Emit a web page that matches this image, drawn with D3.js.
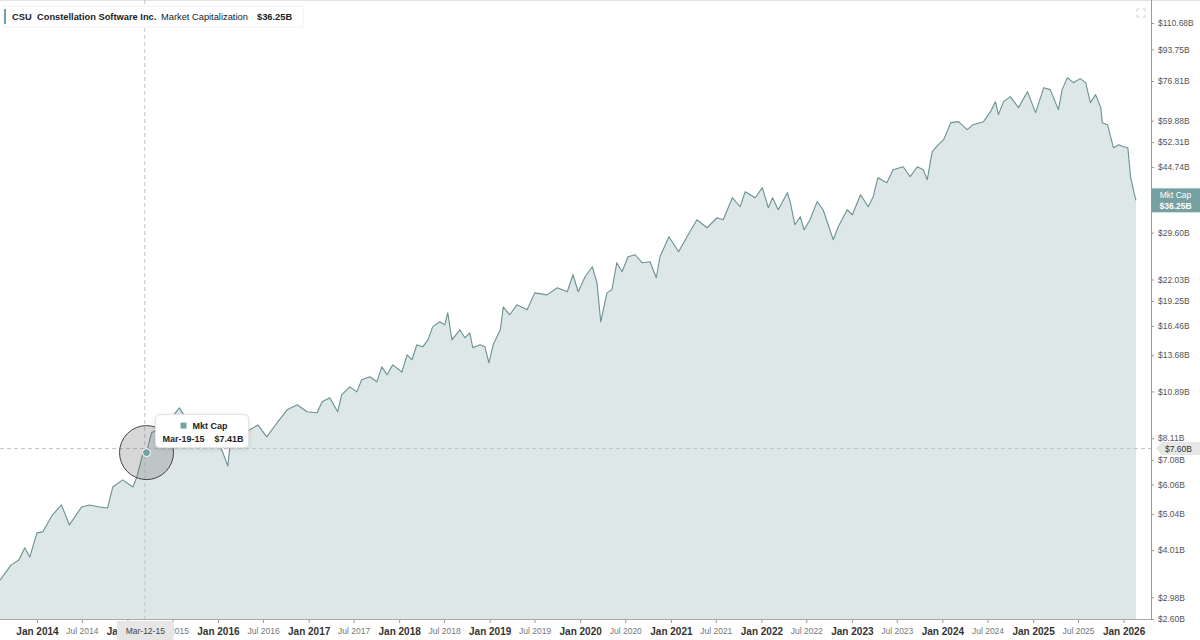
<!DOCTYPE html>
<html>
<head>
<meta charset="utf-8">
<script src="https://cdn.jsdelivr.net/npm/d3@7"></script>
<style>
  body { margin: 0; background: #fff; font-family: "Liberation Sans", Arial, sans-serif; }
  svg { display: block; }
</style>
</head>
<body>
<svg id="chart" width="1200" height="640"></svg>
<script>
// market cap in $B
const dates = ["2013-08-05","2013-09-18","2013-10-20","2013-11-13","2013-12-03","2014-01-01","2014-01-25","2014-03-04","2014-04-10","2014-05-12",
  "2014-06-30","2014-08-01","2014-09-11","2014-10-13","2014-11-03","2014-12-13","2015-01-23","2015-02-08","2015-03-03","2015-03-19",
  "2015-04-08","2015-05-30","2015-07-30","2015-09-09","2015-11-09","2015-12-19","2016-01-21","2016-02-10","2016-02-18","2016-05-08",
  "2016-06-10","2016-07-16","2016-08-26","2016-10-06","2016-11-16","2016-12-25","2017-02-04","2017-02-24","2017-03-27","2017-04-28",
  "2017-05-14","2017-06-16","2017-07-14","2017-08-03","2017-09-05","2017-10-03","2017-10-23","2017-11-13","2017-12-06","2018-01-12",
  "2018-02-02","2018-02-22","2018-03-13","2018-04-06","2018-04-27","2018-05-16","2018-06-14","2018-07-04","2018-07-16","2018-08-02",
  "2018-09-03","2018-09-23","2018-10-13","2018-10-25","2018-11-23","2018-12-13","2018-12-29","2019-01-15","2019-02-13","2019-02-25",
  "2019-03-23","2019-04-21","2019-06-01","2019-07-02","2019-08-20","2019-10-01","2019-11-10","2019-12-03","2019-12-24","2020-01-21",
  "2020-02-19","2020-03-09","2020-03-24","2020-04-18","2020-05-08","2020-05-28","2020-06-18","2020-07-12","2020-08-10","2020-09-07",
  "2020-10-09","2020-11-03","2020-11-18","2020-12-24","2021-02-01","2021-03-07","2021-04-16","2021-05-27","2021-07-06","2021-07-31",
  "2021-09-06","2021-10-07","2021-10-28","2021-12-07","2022-01-05","2022-01-29","2022-02-15","2022-03-10","2022-04-16","2022-04-28",
  "2022-05-16","2022-06-07","2022-06-22","2022-07-16","2022-08-14","2022-09-07","2022-10-18","2022-11-07","2022-12-13","2023-01-03",
  "2023-02-05","2023-03-08","2023-03-28","2023-04-16","2023-05-22","2023-06-16","2023-07-27","2023-08-24","2023-09-22","2023-10-16",
  "2023-11-01","2023-11-21","2023-12-16","2024-01-06","2024-02-04","2024-03-06","2024-04-10","2024-05-04","2024-06-15","2024-07-13",
  "2024-08-02","2024-08-14","2024-09-04","2024-10-01","2024-11-03","2024-12-09","2025-01-11","2025-02-13","2025-03-11","2025-04-13",
  "2025-04-28","2025-05-19","2025-06-12","2025-07-10","2025-08-01","2025-08-20","2025-09-10","2025-10-01","2025-10-07","2025-10-28",
  "2025-11-21","2025-12-12","2026-01-01","2026-01-18","2026-01-29","2026-02-11","2026-02-20"];

const mktCap = [3.32,3.65,3.77,4.07,3.84,4.47,4.50,5.00,5.33,4.70,
  5.26,5.33,5.26,5.23,5.97,6.24,5.97,6.36,7.30,7.41,
  8.39,8.75,9.82,8.82,8.55,8.28,7.40,6.81,7.68,8.55,
  8.82,8.18,8.93,9.70,10.01,9.58,9.52,10.20,10.46,9.58,
  10.65,11.21,10.86,11.72,11.94,11.57,12.71,12.09,12.87,12.31,
  13.71,13.29,14.60,14.42,15.06,16.35,16.88,16.56,17.87,15.06,
  16.05,15.26,15.75,14.33,14.60,14.42,13.03,14.60,16.05,18.55,
  17.64,18.78,18.20,20.25,20.00,20.91,20.39,22.70,20.39,22.41,
  23.87,21.57,16.88,20.25,20.65,24.48,23.12,25.42,25.74,24.48,
  24.64,22.27,25.42,28.83,26.23,28.83,32.09,30.51,32.49,32.09,
  36.86,34.82,38.28,36.86,39.26,34.60,36.86,34.17,38.04,35.72,
  31.09,32.70,30.13,32.09,35.95,34.17,28.29,30.70,34.17,33.11,
  37.56,34.82,37.10,41.80,40.50,43.96,44.80,42.07,44.80,43.96,
  41.28,49.24,51.47,53.10,59.11,59.48,56.56,58.37,59.48,63.35,
  67.46,62.17,67.46,69.63,64.97,71.85,62.95,73.68,72.76,64.15,
  72.76,78.47,76.03,77.98,76.03,67.04,70.50,64.97,59.11,58.37,
  50.50,51.47,50.81,50.50,42.07,38.28,36.25];

const yTicks = [2.60, 2.98, 4.01, 5.04, 6.06, 7.08, 8.11, 10.89, 13.68, 16.46, 19.25, 22.03,
  29.60, 37.17, 44.74, 52.31, 59.88, 76.81, 93.75, 110.68];

const xTicks = ["2014-01-01","2014-07-01","2015-01-01","2015-07-01","2016-01-01","2016-07-01","2017-01-01","2017-07-01",
  "2018-01-01","2018-07-01","2019-01-01","2019-07-01","2020-01-01","2020-07-01","2021-01-01","2021-07-01",
  "2022-01-01","2022-07-01","2023-01-01","2023-07-01","2024-01-01","2024-07-01","2025-01-01","2025-07-01","2026-01-01"];

// hover state shown in the picture
const crossDate = "2015-03-12", crossValue = 7.60;
const hoverDate = "2015-03-19", hoverValue = 7.41;
const lastValue = 36.25;

const parse = d3.timeParse("%Y-%m-%d");
const data = dates.map((d, i) => ({ date: parse(d), value: mktCap[i] }));

const W = 1200, H = 640;
const axisX = 1151, axisY = 619;
const teal = "#76a0a2";

const svg = d3.select("#chart");

const x = d3.scaleTime()
  .domain(d3.extent(data, d => d.date))
  .range([0, 1136]);

const y = d3.scaleLog()
  .domain([2.60, 110.68])
  .range([axisY, 23]);

// top border
svg.append("line")
  .attr("x1", 0).attr("x2", W).attr("y1", 0.5).attr("y2", 0.5)
  .attr("stroke", "#e2e2e2");

const area = d3.area()
  .x(d => x(d.date))
  .y0(axisY)
  .y1(d => y(d.value));

const line = d3.line()
  .x(d => x(d.date))
  .y(d => y(d.value));

svg.append("path")
  .datum(data)
  .attr("d", area)
  .attr("fill", "#dde7e8");

svg.append("path")
  .datum(data)
  .attr("d", line)
  .attr("fill", "none")
  .attr("stroke", "#6b9192")
  .attr("stroke-width", 1.1)
  .attr("stroke-linejoin", "round");

// crosshair
const cx = x(parse(crossDate)), cy = y(crossValue);
svg.append("line")
  .attr("x1", cx).attr("x2", cx).attr("y1", 0).attr("y2", axisY)
  .attr("stroke", "#c4c4c4").attr("stroke-dasharray", "4,3");
svg.append("line")
  .attr("x1", 0).attr("x2", axisX).attr("y1", cy).attr("y2", cy)
  .attr("stroke", "#c4c4c4").attr("stroke-dasharray", "4,3");

// bottom axis
const xAxis = d3.axisBottom(x)
  .tickValues(xTicks.map(parse))
  .tickSize(4)
  .tickPadding(5)
  .tickFormat(d3.timeFormat("%b %Y"));

const gx = svg.append("g")
  .attr("transform", "translate(0," + axisY + ")")
  .call(xAxis);
gx.select(".domain").remove();
gx.selectAll(".tick line").attr("stroke", "#999");
gx.selectAll(".tick text")
  .attr("font-family", "Liberation Sans, Arial, sans-serif")
  .attr("font-size", d => d.getMonth() === 0 ? 10 : 8.5)
  .attr("font-weight", d => d.getMonth() === 0 ? "bold" : "normal")
  .attr("fill", d => d.getMonth() === 0 ? "#333" : "#777");

svg.append("line")
  .attr("x1", 0).attr("x2", axisX).attr("y1", axisY + 0.5).attr("y2", axisY + 0.5)
  .attr("stroke", "#aaa");

// right axis
const yAxis = d3.axisRight(y)
  .tickValues(yTicks)
  .tickSize(3)
  .tickPadding(4)
  .tickFormat(d => "$" + d.toFixed(2) + "B");

const gy = svg.append("g")
  .attr("transform", "translate(" + axisX + ",0)")
  .call(yAxis);
gy.select(".domain").remove();
gy.selectAll(".tick line").attr("stroke", "#999");
gy.selectAll(".tick text")
  .attr("font-family", "Liberation Sans, Arial, sans-serif")
  .attr("font-size", 8.5)
  .attr("fill", "#555");

svg.append("line")
  .attr("x1", axisX + 0.5).attr("x2", axisX + 0.5).attr("y1", 0).attr("y2", axisY)
  .attr("stroke", "#999");

// hover marker
const hx = x(parse(hoverDate)), hy = y(hoverValue);
svg.append("circle")
  .attr("cx", hx).attr("cy", hy).attr("r", 27)
  .attr("fill", "rgba(110,110,110,0.28)")
  .attr("stroke", "#444").attr("stroke-width", 1);
svg.append("circle")
  .attr("cx", hx).attr("cy", hy).attr("r", 4)
  .attr("fill", teal).attr("stroke", "#fff").attr("stroke-width", 1);

// tooltip
const tip = svg.append("g").attr("transform", "translate(" + (hx + 9) + "," + (hy - 38) + ")");
tip.append("rect")
  .attr("width", 93).attr("height", 33).attr("rx", 4)
  .attr("fill", "#fff").attr("stroke", "#e3e3e3")
  .style("filter", "drop-shadow(0px 1px 2px rgba(0,0,0,0.12))");
tip.append("rect")
  .attr("x", 25).attr("y", 8).attr("width", 6).attr("height", 6)
  .attr("fill", teal);
tip.append("text")
  .attr("x", 37).attr("y", 14)
  .attr("font-size", 9).attr("font-weight", "bold").attr("fill", "#222")
  .text("Mkt Cap");
tip.append("text")
  .attr("x", 7).attr("y", 27)
  .attr("font-size", 9).attr("font-weight", "bold").attr("fill", "#222")
  .text(d3.timeFormat("%b-%d-%y")(parse(hoverDate)));
tip.append("text")
  .attr("x", 88).attr("y", 27).attr("text-anchor", "end")
  .attr("font-size", 9).attr("font-weight", "bold").attr("fill", "#222")
  .text("$" + hoverValue.toFixed(2) + "B");

// crosshair labels
svg.append("rect")
  .attr("x", cx - 28).attr("y", axisY + 2).attr("width", 57).attr("height", 19)
  .attr("fill", "#e6e6e6");
svg.append("text")
  .attr("x", cx + 0.5).attr("y", axisY + 15).attr("text-anchor", "middle")
  .attr("font-size", 8.5).attr("fill", "#444")
  .text(d3.timeFormat("%b-%d-%y")(parse(crossDate)));

svg.append("path")
  .attr("d", "M" + (axisX + 5) + "," + cy + "L" + (axisX + 11) + "," + (cy - 6.5) + "H" + W + "V" + (cy + 6.5) + "H" + (axisX + 11) + "Z")
  .attr("fill", "#e6e6e6");
svg.append("text")
  .attr("x", 1165).attr("y", cy + 3.5)
  .attr("font-size", 8.5).attr("fill", "#333")
  .text("$" + crossValue.toFixed(2) + "B");

// last value label
const ly = y(lastValue);
svg.append("rect")
  .attr("x", axisX).attr("y", ly - 12).attr("width", W - axisX).attr("height", 24)
  .attr("fill", teal);
svg.append("text")
  .attr("x", 1175.5).attr("y", ly - 2).attr("text-anchor", "middle")
  .attr("font-size", 8.5).attr("fill", "#fff")
  .text("Mkt Cap");
svg.append("text")
  .attr("x", 1175.5).attr("y", ly + 8.5).attr("text-anchor", "middle")
  .attr("font-size", 8.5).attr("font-weight", "bold").attr("fill", "#fff")
  .text("$" + lastValue.toFixed(2) + "B");

// header
const hdr = svg.append("g");
hdr.append("rect")
  .attr("x", 4).attr("y", 6).attr("width", 299).attr("height", 21)
  .attr("fill", "#fff").attr("stroke", "#f0f0f0");
hdr.append("rect")
  .attr("x", 4).attr("y", 9).attr("width", 2).attr("height", 15)
  .attr("fill", teal);
const hdrText = [
  { t: "CSU", x: 12, b: true },
  { t: "Constellation Software Inc.", x: 37, b: true },
  { t: "Market Capitalization", x: 161, b: false },
  { t: "$" + lastValue.toFixed(2) + "B", x: 257, b: true }
];
hdr.selectAll("text.h")
  .data(hdrText)
  .enter().append("text")
  .attr("class", "h")
  .attr("x", d => d.x).attr("y", 20)
  .attr("font-size", 9.3)
  .attr("font-weight", d => d.b ? "bold" : "normal")
  .attr("fill", "#222")
  .text(d => d.t);

// expand icon
const ic = svg.append("g").attr("transform", "translate(1137,9)")
  .attr("fill", "none").attr("stroke", "#cfcfcf").attr("stroke-width", 1);
ic.append("path").attr("d", "M0,2.5V0H2.5 M5.5,0H8V2.5 M8,5.5V8H5.5 M2.5,8H0V5.5");
</script>
</body>
</html>
